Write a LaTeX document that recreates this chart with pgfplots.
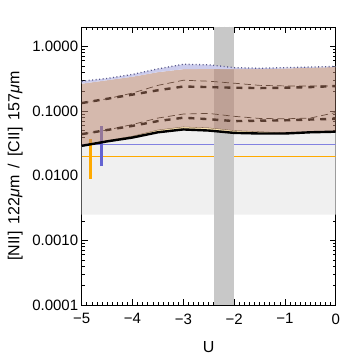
\documentclass[border=0pt]{standalone}
\usepackage{pgfplots}
\pgfplotsset{compat=1.18}
\usepackage{fontspec}
\setmainfont{Liberation Sans}

\definecolor{lgray}{RGB}{240,240,240}
\definecolor{band}{RGB}{200,200,200}
\definecolor{brownfill}{RGB}{183,134,114}
\definecolor{cream}{RGB}{250,226,175}
\definecolor{lblue}{RGB}{204,204,236}
\definecolor{dotc}{RGB}{90,90,140}
\definecolor{dkbrown}{RGB}{88,60,48}
\definecolor{thbrown}{RGB}{105,75,60}
\definecolor{orng}{RGB}{255,170,0}
\definecolor{bluel}{RGB}{130,130,225}
\definecolor{bluebar}{RGB}{100,100,210}

\begin{document}
\begin{tikzpicture}
\useasboundingbox (0,0) rectangle (361pt,361pt);
\begin{axis}[
  at={(81.7pt,56pt)}, anchor=south west,
  scale only axis, width=254pt, height=278pt,
  xmin=-5, xmax=0, ymin=1e-4, ymax=2,
  ymode=log,
  xtick={-5,-4,-3,-2,-1,0},
  xticklabels={−5,−4,−3,−2,−1,0},
  minor x tick num=9,
  ytick={1e-4,1e-3,1e-2,1e-1,1},
  yticklabels={0.0001,0.0010,0.0100,0.1000,1.0000},
  tick align=inside,
  major tick length=6pt, minor tick length=3pt,
  tick style={black, line width=0.6pt},
  axis line style={line width=0.8pt},
  ticklabel style={font=\fontsize{15}{18}\selectfont},
  xticklabel style={yshift=-5pt},
  every axis x label/.style={at={(axis description cs:0.5,0)}, yshift=-42pt, anchor=center},
  every axis y label/.style={at={(axis description cs:0,0.5)}, xshift=-66.5pt, rotate=90, anchor=center},
  label style={font=\fontsize{16}{19}\selectfont},
  xlabel={U},
  ylabel={[NII]\, 122\textit{μ}m \,/\, [CII]\, 157\textit{μ}m},
  clip=true,
]
% light gray region below the model grid
\addplot[fill=lgray, draw=none] coordinates {
  (-5,0.0025) (0,0.0025)
  (0,0.048) (-0.5,0.047) (-1,0.045) (-1.5,0.045) (-2,0.046) (-2.5,0.050)
  (-3,0.052) (-3.5,0.047) (-4,0.039) (-4.5,0.034) (-5,0.029)} -- cycle;
% observed levels
\addplot[bluel, line width=0.9pt] coordinates {(-5,0.0307) (0,0.0307)};
\addplot[orng, line width=0.9pt] coordinates {(-5,0.0202) (0,0.0202)};
% error bars
\addplot[orng, line width=2.8pt] coordinates {(-4.82,0.0089) (-4.82,0.0376)};
\addplot[bluebar, line width=2.8pt] coordinates {(-4.61,0.0141) (-4.61,0.0587)};
% vertical band
\addplot[fill=band, draw=none] coordinates {(-2.4,1e-4) (-2.0,1e-4) (-2.0,2) (-2.4,2)} -- cycle;
% model range
\addplot[fill=brownfill, fill opacity=0.58, draw=none] coordinates {
  (-5,0.265) (-4.5,0.30) (-4,0.34) (-3.5,0.40) (-3,0.445) (-2.5,0.45)
  (-2,0.445) (-1.5,0.445) (-1,0.455) (-0.5,0.47) (0,0.48)
  (0,0.048) (-0.5,0.047) (-1,0.045) (-1.5,0.045) (-2,0.046) (-2.5,0.050)
  (-3,0.052) (-3.5,0.047) (-4,0.039) (-4.5,0.034) (-5,0.029)} -- cycle;
\addplot[fill=lblue, draw=none] coordinates {
  (-5,0.29) (-4.5,0.32) (-4,0.37) (-3.5,0.45) (-3,0.53) (-2.5,0.52)
  (-2,0.47) (-1.5,0.46) (-1,0.47) (-0.5,0.48) (0,0.49)
  (0,0.48) (-0.5,0.47) (-1,0.455) (-1.5,0.445) (-2,0.445) (-2.5,0.45)
  (-3,0.445) (-3.5,0.40) (-4,0.34) (-4.5,0.30) (-5,0.265)} -- cycle;
\addplot[fill=cream, draw=thbrown, line width=0.3pt] coordinates {
  (-5,0.029) (-4.5,0.035) (-4,0.041) (-3.5,0.051) (-3,0.057) (-2.5,0.055)
  (-2,0.050) (-1.5,0.048) (-1,0.046) (-0.5,0.047) (0,0.048)
  (0,0.048) (-0.5,0.047) (-1,0.045) (-1.5,0.045) (-2,0.046) (-2.5,0.050)
  (-3,0.052) (-3.5,0.047) (-4,0.039) (-4.5,0.034) (-5,0.029)} -- cycle;
% lower limit
\addplot[black, line width=2.4pt] coordinates {
  (-5,0.029) (-4.5,0.034) (-4,0.039) (-3.5,0.047) (-3,0.052) (-2.5,0.050)
  (-2,0.046) (-1.5,0.045) (-1,0.045) (-0.5,0.047) (0,0.048)};
% dashed tracks
\addplot[thbrown, line width=0.7pt, dash pattern=on 7pt off 4pt] coordinates {
  (-5,0.133) (-4.5,0.155) (-4,0.19) (-3.5,0.25) (-3,0.30) (-2.5,0.29)
  (-2,0.27) (-1.5,0.25) (-1,0.245) (-0.5,0.245) (0,0.245)};
\addplot[dkbrown, line width=2.4pt, dash pattern=on 6pt off 6pt] coordinates {
  (-5,0.133) (-4.5,0.155) (-4,0.18) (-3.5,0.21) (-3,0.24) (-2.5,0.235)
  (-2,0.23) (-1.5,0.227) (-1,0.23) (-0.5,0.235) (0,0.244)};
\addplot[thbrown, line width=0.7pt, dash pattern=on 7pt off 4pt] coordinates {
  (-5,0.044) (-4.5,0.051) (-4,0.062) (-3.5,0.078) (-3,0.090) (-2.5,0.092)
  (-2,0.083) (-1.5,0.077) (-1,0.076) (-0.5,0.078) (0,0.095)};
\addplot[dkbrown, line width=2.4pt, dash pattern=on 6pt off 6pt] coordinates {
  (-5,0.044) (-4.5,0.051) (-4,0.059) (-3.5,0.070) (-3,0.079) (-2.5,0.075)
  (-2,0.070) (-1.5,0.071) (-1,0.072) (-0.5,0.074) (0,0.076)};
% upper limit
\addplot[dotc, line width=1.3pt, dash pattern=on 1pt off 2.5pt] coordinates {
  (-5,0.29) (-4.5,0.32) (-4,0.37) (-3.5,0.45) (-3,0.53) (-2.5,0.52)
  (-2,0.47) (-1.5,0.46) (-1,0.47) (-0.5,0.48) (0,0.49)};
\end{axis}
\end{tikzpicture}
\end{document}
